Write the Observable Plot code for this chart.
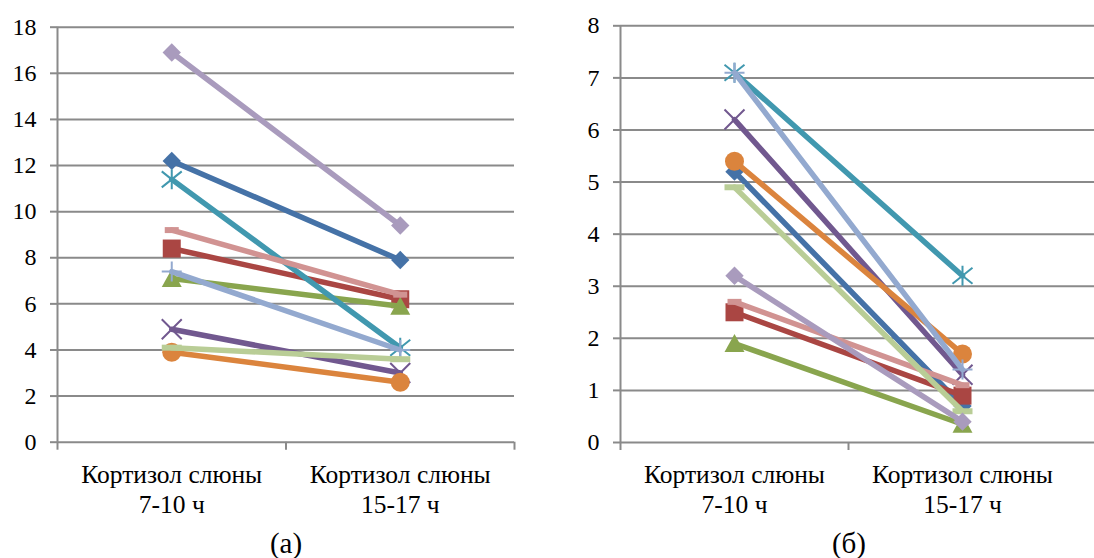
<!DOCTYPE html>
<html><head><meta charset="utf-8">
<script src="https://cdn.jsdelivr.net/npm/d3@7"></script>
<script src="https://cdn.jsdelivr.net/npm/@observablehq/plot@0.6"></script>
<style>
body{margin:0;background:#fff;}
#wrap{position:relative;width:1094px;height:558px;overflow:hidden;font-family:"Liberation Serif","Times New Roman",serif;background:#fff;}
.panel{position:absolute;top:0;}
.panel svg text{font-family:"Liberation Serif","Times New Roman",serif !important;}
.cap{position:absolute;top:529px;width:100px;text-align:center;font-size:29px;line-height:29px;color:#000;}
</style></head><body>
<div id="wrap">
 <div id="a" class="panel" style="left:0"></div>
 <div id="b" class="panel" style="left:547px"></div>
 <div class="cap" style="left:236px">(а)</div>
 <div class="cap" style="left:799px">(б)</div>
</div>
<script>
// ---- data ----
const categories = ["Кортизол слюны\n7-10 ч", "Кортизол слюны\n15-17 ч"];
const seriesNames = ["1","2","3","4","5","6","7","8","9","10"];
const panelA_morning = [12.2, 8.4, 7.1, 4.9, 11.4, 3.9, 7.4, 9.2, 4.1, 16.9];
const panelA_evening = [7.9, 6.2, 5.9, 3.0, 4.1, 2.6, 4.0, 6.4, 3.6, 9.4];
const panelB_morning = [5.2, 2.5, 1.9, 6.2, 7.1, 5.4, 7.1, 2.7, 4.9, 3.2];
const panelB_evening = [0.7, 0.9, 0.35, 1.3, 3.2, 1.7, 1.4, 1.1, 0.6, 0.4];
const yTicksA = [0, 2, 4, 6, 8, 10, 12, 14, 16, 18];
const yTicksB = [0, 1, 2, 3, 4, 5, 6, 7, 8];
const seriesColors = ["#4572A7","#AA4643","#89A54E","#71588F","#4198AF","#DB843D","#93A9CF","#D19392","#B9CD96","#A99BBD"];
const seriesMarkers = ["diamond","square","triangle","times","asterisk","circle","plus","dash","longdash","diamond"];

// ---- marker shapes ----
const rad = size => Math.sqrt(size / Math.PI);
const symbols = {
  diamond: {draw(c, s){const r = rad(s)*0.92; c.moveTo(0,-r); c.lineTo(r,0); c.lineTo(0,r); c.lineTo(-r,0); c.closePath();}},
  square: {draw(c, s){const r = rad(s)*0.9; c.rect(-r,-r,2*r,2*r);}},
  triangle: {draw(c, s){const r = rad(s); c.moveTo(0,-r*0.95); c.lineTo(r,r*0.85); c.lineTo(-r,r*0.85); c.closePath();}},
  circle: {draw(c, s){const r = rad(s)*0.95; c.moveTo(r,0); c.arc(0,0,r,0,2*Math.PI);}},
  times: {draw(c, s){const r = rad(s); c.moveTo(-r,-r); c.lineTo(r,r); c.moveTo(r,-r); c.lineTo(-r,r);}},
  asterisk: {draw(c, s){const r = rad(s); c.moveTo(-r,-r*0.8); c.lineTo(r,r*0.8); c.moveTo(r,-r*0.8); c.lineTo(-r,r*0.8); c.moveTo(0,-r); c.lineTo(0,r);}},
  plus: {draw(c, s){const r = rad(s); c.moveTo(-r,0); c.lineTo(r,0); c.moveTo(0,-r); c.lineTo(0,r);}},
  dash: {draw(c, s){const r = rad(s); c.rect(-r*0.7,-3,r*1.4,6);}},
  longdash: {draw(c, s){const r = rad(s); c.rect(-r,-3,r*2,6);}}
};
const stroked = new Set(["times","asterisk","plus"]);
const GRID = "#8a8a8a";
const FONT = "Liberation Serif";

function panel({morning, evening, yMax, yTicks, yRange, xRange, width, marginLeft, marginRight, xTicks}) {
  const rows = [];
  seriesNames.forEach((s, i) => {
    rows.push({s, i, c: 0, v: morning[i]});
    rows.push({s, i, c: 1, v: evening[i]});
  });
  const height = 520;
  const marks = [
    Plot.ruleY(yTicks, {stroke: GRID, strokeWidth: 2}),
    Plot.ruleX([-0.5], {stroke: GRID, strokeWidth: 2}),
    Plot.axisY({ticks: yTicks, label: null, tickSize: 7, tickPadding: 14, fontSize: 24, fontFamily: FONT, stroke: GRID, strokeWidth: 2, fill: "#000", tickFormat: d => String(d)}),
    Plot.axisX({ticks: xTicks, label: null, tickSize: 8, tickFormat: () => "", stroke: GRID, strokeWidth: 2}),
    Plot.text(categories, {x: (d, i) => i, frameAnchor: "bottom", dy: 46, lineAnchor: "middle", lineHeight: 1.17, fontSize: 25.5, fontFamily: FONT, fill: "#000"})
  ];
  seriesNames.forEach((s, i) => {
    const data = rows.filter(r => r.i === i);
    const m = seriesMarkers[i];
    const col = seriesColors[i];
    marks.push(Plot.line(data, {x: "c", y: "v", stroke: col, strokeWidth: 5.5, strokeLinecap: "round"}));
    marks.push(Plot.dot(data, {x: "c", y: "v", r: 10, symbol: symbols[m],
      fill: stroked.has(m) ? "none" : col, stroke: stroked.has(m) ? col : "none", strokeWidth: 2}));
  });
  return Plot.plot({
    width, height,
    marginLeft, marginRight,
    marginTop: yRange[1], marginBottom: height - yRange[0],
    x: {type: "linear", domain: [-0.5, 1.5], range: xRange, axis: null, label: null},
    y: {domain: [0, yMax], range: yRange, axis: null, label: null},
    style: {fontFamily: FONT, background: "transparent", overflow: "visible"},
    marks
  });
}

document.getElementById("a").appendChild(panel({
  morning: panelA_morning, evening: panelA_evening, yMax: 18, yTicks: yTicksA,
  yRange: [441.7, 26.7], xRange: [57, 514], width: 547, marginLeft: 57, marginRight: 33,
  xTicks: [-0.5, 0.5, 1.5]
}));
document.getElementById("b").appendChild(panel({
  morning: panelB_morning, evening: panelB_evening, yMax: 8, yTicks: yTicksB,
  yRange: [442, 25.3], xRange: [73, 529], width: 547, marginLeft: 73, marginRight: 0,
  xTicks: [-0.5, 0.5]
}));
</script>
</body></html>
